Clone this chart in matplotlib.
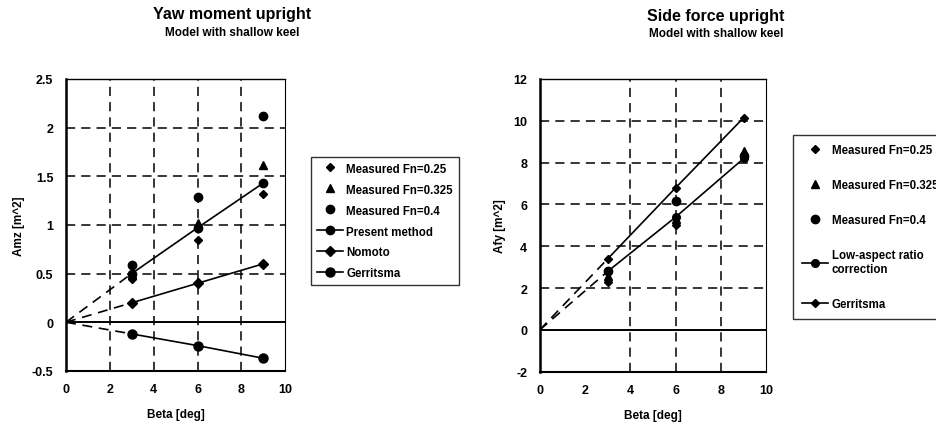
import matplotlib.pyplot as plt

plt.rcParams['font.family'] = ['Liberation Sans', 'DejaVu Sans']
plt.rcParams['font.weight'] = 'bold'

beta = [3, 6, 9]

# Yaw moment upright
amz_fn025 = [0.44, 0.84, 1.32]
amz_fn0325 = [0.50, 1.02, 1.62]
amz_fn04 = [0.59, 1.29, 2.12]
amz_present = [0.50, 0.97, 1.43]
amz_nomoto = [0.20, 0.40, 0.60]
amz_gerritsma = [-0.12, -0.24, -0.37]

# Side force upright
afy_fn025 = [2.3, 5.0, 8.2]
afy_fn0325 = [2.6, 5.3, 8.55]
afy_fn04 = [2.8, 6.15, 8.3]
afy_lowaspect = [2.8, 5.4, 8.2]
afy_gerritsma = [3.4, 6.8, 10.15]

fig = plt.figure(figsize=(9.37, 4.27), dpi=100)
ax1 = fig.add_axes([0.0704, 0.129, 0.234, 0.684])
ax2 = fig.add_axes([0.576, 0.127, 0.242, 0.686])

dash = (0, (6, 4))


def measured(ax, y1, y2, y3):
    ax.plot(beta, y1, 'D', color='k', ms=4.5, ls='none', label='Measured Fn=0.25')
    ax.plot(beta, y2, '^', color='k', ms=6, ls='none', label='Measured Fn=0.325')
    ax.plot(beta, y3, 'o', color='k', ms=6, ls='none', label='Measured Fn=0.4')


def calc(ax, y, marker, ms, label):
    ax.plot([0, beta[0]], [0, y[0]], color='k', lw=1.2, ls=dash)
    ax.plot(beta, y, color='k', lw=1.2, marker=marker, ms=ms, label=label)


def style(ax, ymin, ymax, ystep, xgrid, ylabel):
    ax.set_xlim(0, 10)
    ax.set_ylim(ymin, ymax)
    ax.set_xticks(range(0, 11, 2))
    yt = []
    v = ymin
    while v <= ymax + 1e-9:
        yt.append(round(v, 2))
        v += ystep
    ax.set_yticks(yt)
    ax.set_yticklabels([('%g' % t) for t in yt])
    for x in xgrid:
        ax.axvline(x, color='k', lw=1.1, ls=dash, zorder=0)
    for t in yt:
        if t not in (0, ymin, ymax):
            ax.axhline(t, color='k', lw=1.1, ls=dash, zorder=0)
    ax.axhline(0, color='k', lw=1.4, zorder=1)
    ax.tick_params(labelsize=9, length=0, pad=9)
    for lbl in ax.get_xticklabels() + ax.get_yticklabels():
        lbl.set_fontweight('bold')
    ax.spines['left'].set_linewidth(1.8)
    ax.spines['bottom'].set_linewidth(1.5)
    ax.spines['top'].set_linewidth(1.0)
    ax.spines['right'].set_linewidth(0.8)
    ax.set_xlabel('Beta [deg]', fontsize=8.5, fontweight='bold', labelpad=9)
    ax.set_ylabel(ylabel, fontsize=8.5, fontweight='bold', labelpad=5)


measured(ax1, amz_fn025, amz_fn0325, amz_fn04)
calc(ax1, amz_present, 'o', 6, 'Present method')
calc(ax1, amz_nomoto, 'D', 5, 'Nomoto')
calc(ax1, amz_gerritsma, 'o', 6.5, 'Gerritsma')
style(ax1, -0.5, 2.5, 0.5, [2, 4, 6, 8], 'Amz [m^2]')

measured(ax2, afy_fn025, afy_fn0325, afy_fn04)
calc(ax2, afy_lowaspect, 'o', 5.5, 'Low-aspect ratio\ncorrection')
calc(ax2, afy_gerritsma, 'D', 4.5, 'Gerritsma')
style(ax2, -2, 12, 2, [4, 6, 8], 'Afy [m^2]')

leg1 = ax1.legend(loc='upper left', bbox_to_anchor=(305 / 937, 1 - 152 / 427),
                  bbox_transform=fig.transFigure, fontsize=8.3, frameon=True,
                  fancybox=False, edgecolor='k', handlelength=2.3,
                  labelspacing=0.78, borderpad=0.5, handletextpad=0.3)
leg1.get_frame().set_linewidth(1.0)

leg2 = ax2.legend(loc='upper left', bbox_to_anchor=(787 / 937, 1 - 130 / 427),
                  bbox_transform=fig.transFigure, fontsize=8.3, frameon=True,
                  fancybox=False, edgecolor='k', handlelength=2.3,
                  labelspacing=2.0, borderpad=0.8, handletextpad=0.3)
leg2.get_frame().set_linewidth(1.0)
for leg in (leg1, leg2):
    for t in leg.get_texts():
        t.set_fontweight('bold')

fig.text(232 / 937, 1 - 15 / 427, 'Yaw moment upright', ha='center', va='center',
         fontsize=11.5, fontweight='bold')
fig.text(232 / 937, 1 - 33 / 427, 'Model with shallow keel', ha='center', va='center',
         fontsize=8.5, fontweight='bold')
fig.text(716 / 937, 1 - 16 / 427, 'Side force upright', ha='center', va='center',
         fontsize=11.5, fontweight='bold')
fig.text(716 / 937, 1 - 34 / 427, 'Model with shallow keel', ha='center', va='center',
         fontsize=8.5, fontweight='bold')

fig.savefig('out.png', dpi=100)
